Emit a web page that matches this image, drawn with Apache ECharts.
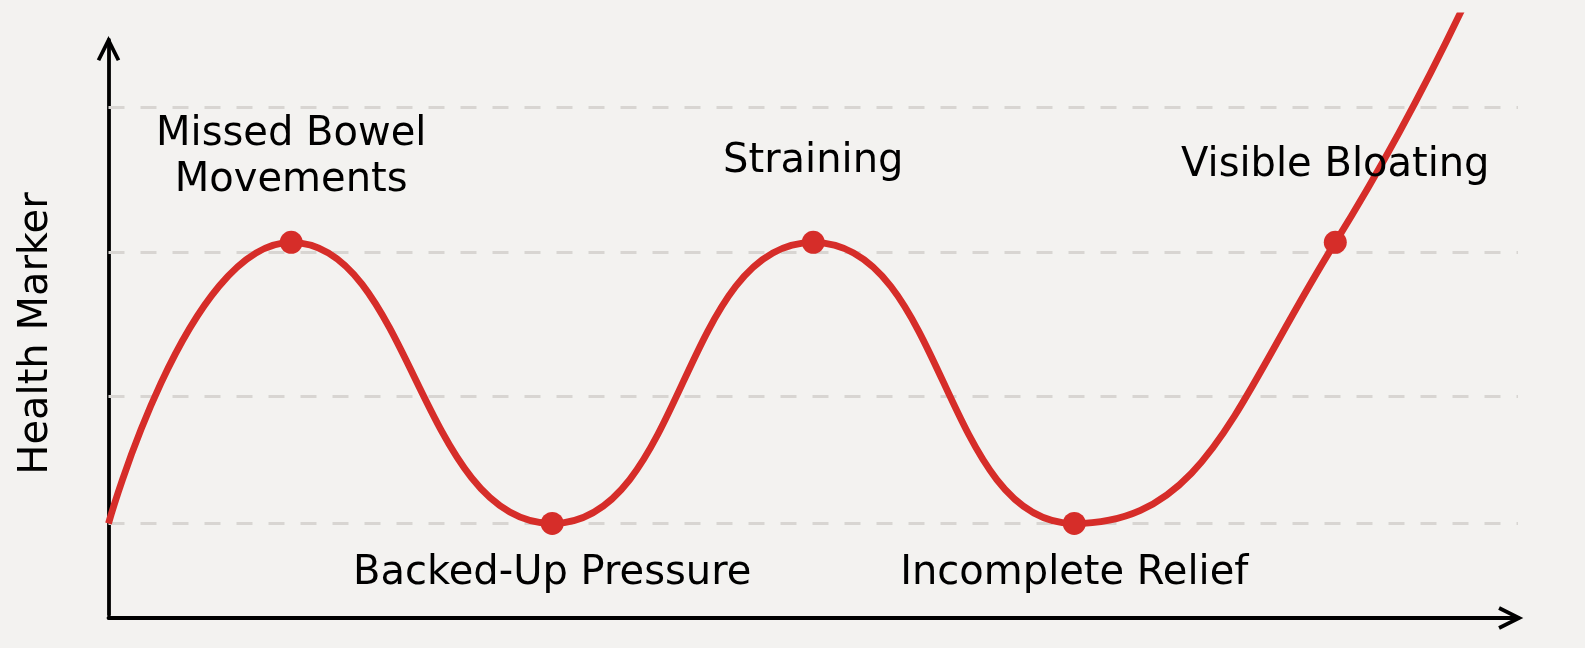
<!DOCTYPE html>
<html>
<head>
<meta charset="utf-8">
<script src="https://cdn.jsdelivr.net/npm/echarts@6/dist/echarts.min.js"></script>
<style>
  html, body { margin: 0; padding: 0; background: #f3f2f0; }
  #main { width: 1585px; height: 648px; }
</style>
</head>
<body>
<div id="main"></div>
<script>
// ---- data ----
const stageNames = ['Missed Bowel\nMovements', 'Backed-Up Pressure', 'Straining', 'Incomplete Relief', 'Visible Bloating'];
const curveX = [0.3, 1, 2, 3, 4, 5, 6];
const curveY = [15.7, 62.4, 15.7, 62.4, 15.7, 62.4, 155];
const gridLevels = [15.7, 36.9, 60.7, 84.8];
const yAxisTitle = 'Health Marker';

// ---- style ----
const RED = '#d62d29';
const FONT = 'DejaVu Sans';
const ARROW = 'path://M-1.699 19.151L10 -4.249L21.699 19.151L18.301 20.849L10 4.249L1.699 20.849Z';
const labelPlacement = [
  null,
  { position: 'top', distance: 27 },
  { position: 'bottom', distance: 16 },
  { position: 'top', distance: 46 },
  { position: 'bottom', distance: 16 },
  { position: 'top', distance: 42 },
  null
];

const seriesData = curveX.map((x, i) => {
  const item = { value: [x, curveY[i]] };
  const s = i - 1;
  if (s >= 0 && s < stageNames.length) {
    item.label = Object.assign({ show: true, formatter: stageNames[s] }, labelPlacement[i]);
  } else {
    item.symbol = 'none';
    item.label = { show: false };
  }
  return item;
});

const chart = echarts.init(document.getElementById('main'));
chart.setOption({
  backgroundColor: '#f3f2f0',
  animation: false,
  grid: [
    { left: 108.5, right: 67, top: 16, bottom: 30 },
    { left: 108.5, right: 67, top: 40, bottom: 33 }
  ],
  xAxis: [
    {
      type: 'value', gridIndex: 0, min: 0.3, max: 5.7,
      axisLine: {
        show: true, onZero: false,
        lineStyle: { color: '#000', width: 3.8 },
        symbol: ['none', ARROW], symbolSize: [23.4, 25.1], symbolOffset: [0, -7.25]
      },
      axisTick: { show: false }, axisLabel: { show: false }, splitLine: { show: false }
    },
    { type: 'value', gridIndex: 1, min: 0.3, max: 5.7, show: false }
  ],
  yAxis: [
    { type: 'value', gridIndex: 0, min: 0, max: 100, show: false },
    {
      type: 'value', gridIndex: 1, min: 0, max: 100,
      name: yAxisTitle, nameLocation: 'middle', nameGap: 52,
      nameTextStyle: { fontSize: 40, color: '#000', fontFamily: FONT, padding: [0, 12, 0, 0] },
      axisLine: {
        show: true, onZero: false,
        lineStyle: { color: '#000', width: 3.8 },
        symbol: ['none', ARROW], symbolSize: [23.4, 25.1], symbolOffset: [0, -8.55]
      },
      axisTick: { show: false }, axisLabel: { show: false }, splitLine: { show: false }
    }
  ],
  series: [
    {
      type: 'line',
      xAxisIndex: 0, yAxisIndex: 0,
      data: seriesData,
      smooth: 0.5,
      clip: true,
      symbol: 'circle',
      symbolSize: 23,
      showSymbol: true,
      lineStyle: { color: RED, width: 6.8 },
      itemStyle: { color: RED },
      label: { fontSize: 40, color: '#000', fontFamily: FONT, lineHeight: 46 },
      emphasis: { disabled: true },
      silent: true,
      z: 3,
      markLine: {
        silent: true,
        z: 1,
        symbol: ['none', 'none'],
        label: { show: false },
        lineStyle: { color: '#d8d5d2', width: 3, type: [16, 16] },
        emphasis: { disabled: true },
        data: gridLevels.map(v => ({ yAxis: v }))
      }
    }
  ]
});
</script>
</body>
</html>
